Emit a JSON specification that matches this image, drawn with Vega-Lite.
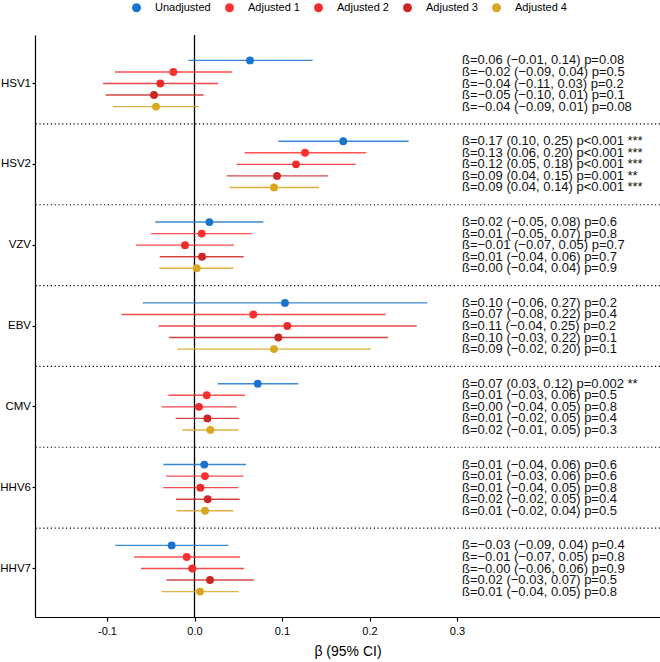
{
  "$schema": "https://vega.github.io/schema/vega-lite/v6.json",
  "width": 625,
  "height": 582,
  "autosize": "none",
  "padding": {"left": 35, "top": 35, "right": 0, "bottom": 45},
  "background": "white",
  "config": {
    "view": {"stroke": null},
    "font": "Liberation Sans",
    "axis": {"grid": false, "domainColor": "black", "domainWidth": 1.2, "tickColor": "black", "tickWidth": 1.2, "labelColor": "black", "titleColor": "black", "titleFontWeight": "normal"}
  },
  "data": {"values": [
    {"virus": "HSV1", "model": "Unadjusted", "beta": 0.0634, "lo": -0.0071, "hi": 0.135, "label": "ß=0.06 (−0.01, 0.14) p=0.08"},
    {"virus": "HSV1", "model": "Adjusted 1", "beta": -0.0242, "lo": -0.0909, "hi": 0.0429, "label": "ß=−0.02 (−0.09, 0.04) p=0.5"},
    {"virus": "HSV1", "model": "Adjusted 2", "beta": -0.0391, "lo": -0.1046, "hi": 0.0272, "label": "ß=−0.04 (−0.11, 0.03) p=0.2"},
    {"virus": "HSV1", "model": "Adjusted 3", "beta": -0.0463, "lo": -0.1015, "hi": 0.0105, "label": "ß=−0.05 (−0.10, 0.01) p=0.1"},
    {"virus": "HSV1", "model": "Adjusted 4", "beta": -0.044, "lo": -0.0931, "hi": 0.0051, "label": "ß=−0.04 (−0.09, 0.01) p=0.08"},
    {"virus": "HSV2", "model": "Unadjusted", "beta": 0.170, "lo": 0.0958, "hi": 0.2448, "label": "ß=0.17 (0.10, 0.25) p<0.001 ***"},
    {"virus": "HSV2", "model": "Adjusted 1", "beta": 0.1263, "lo": 0.0573, "hi": 0.196, "label": "ß=0.13 (0.06, 0.20) p<0.001 ***"},
    {"virus": "HSV2", "model": "Adjusted 2", "beta": 0.116, "lo": 0.0482, "hi": 0.184, "label": "ß=0.12 (0.05, 0.18) p<0.001 ***"},
    {"virus": "HSV2", "model": "Adjusted 3", "beta": 0.0943, "lo": 0.0368, "hi": 0.1526, "label": "ß=0.09 (0.04, 0.15) p=0.001 **"},
    {"virus": "HSV2", "model": "Adjusted 4", "beta": 0.0909, "lo": 0.0398, "hi": 0.1423, "label": "ß=0.09 (0.04, 0.14) p<0.001 ***"},
    {"virus": "VZV", "model": "Unadjusted", "beta": 0.017, "lo": -0.0448, "hi": 0.0787, "label": "ß=0.02 (−0.05, 0.08) p=0.6"},
    {"virus": "VZV", "model": "Adjusted 1", "beta": 0.0082, "lo": -0.0497, "hi": 0.0657, "label": "ß=0.01 (−0.05, 0.07) p=0.8"},
    {"virus": "VZV", "model": "Adjusted 2", "beta": -0.0109, "lo": -0.0669, "hi": 0.0451, "label": "ß=−0.01 (−0.07, 0.05) p=0.7"},
    {"virus": "VZV", "model": "Adjusted 3", "beta": 0.0086, "lo": -0.0398, "hi": 0.0562, "label": "ß=0.01 (−0.04, 0.06) p=0.7"},
    {"virus": "VZV", "model": "Adjusted 4", "beta": 0.0025, "lo": -0.0402, "hi": 0.0444, "label": "ß=0.00 (−0.04, 0.04) p=0.9"},
    {"virus": "EBV", "model": "Unadjusted", "beta": 0.1034, "lo": -0.0592, "hi": 0.266, "label": "ß=0.10 (−0.06, 0.27) p=0.2"},
    {"virus": "EBV", "model": "Adjusted 1", "beta": 0.0672, "lo": -0.0836, "hi": 0.2185, "label": "ß=0.07 (−0.08, 0.22) p=0.4"},
    {"virus": "EBV", "model": "Adjusted 2", "beta": 0.1061, "lo": -0.041, "hi": 0.254, "label": "ß=0.11 (−0.04, 0.25) p=0.2"},
    {"virus": "EBV", "model": "Adjusted 3", "beta": 0.0958, "lo": -0.0291, "hi": 0.2211, "label": "ß=0.10 (−0.03, 0.22) p=0.1"},
    {"virus": "EBV", "model": "Adjusted 4", "beta": 0.0909, "lo": -0.0196, "hi": 0.2017, "label": "ß=0.09 (−0.02, 0.20) p=0.1"},
    {"virus": "CMV", "model": "Unadjusted", "beta": 0.0722, "lo": 0.0265, "hi": 0.1187, "label": "ß=0.07 (0.03, 0.12) p=0.002 **"},
    {"virus": "CMV", "model": "Adjusted 1", "beta": 0.0139, "lo": -0.0299, "hi": 0.0577, "label": "ß=0.01 (−0.03, 0.06) p=0.5"},
    {"virus": "CMV", "model": "Adjusted 2", "beta": 0.0051, "lo": -0.0375, "hi": 0.0482, "label": "ß=0.00 (−0.04, 0.05) p=0.8"},
    {"virus": "CMV", "model": "Adjusted 3", "beta": 0.0147, "lo": -0.0215, "hi": 0.0509, "label": "ß=0.01 (−0.02, 0.05) p=0.4"},
    {"virus": "CMV", "model": "Adjusted 4", "beta": 0.0181, "lo": -0.0139, "hi": 0.0505, "label": "ß=0.02 (−0.01, 0.05) p=0.3"},
    {"virus": "HHV6", "model": "Unadjusted", "beta": 0.0112, "lo": -0.0357, "hi": 0.0589, "label": "ß=0.01 (−0.04, 0.06) p=0.6"},
    {"virus": "HHV6", "model": "Adjusted 1", "beta": 0.012, "lo": -0.0326, "hi": 0.0558, "label": "ß=0.01 (−0.03, 0.06) p=0.6"},
    {"virus": "HHV6", "model": "Adjusted 2", "beta": 0.0067, "lo": -0.0357, "hi": 0.05, "label": "ß=0.01 (−0.04, 0.05) p=0.8"},
    {"virus": "HHV6", "model": "Adjusted 3", "beta": 0.0151, "lo": -0.0211, "hi": 0.0516, "label": "ß=0.02 (−0.02, 0.05) p=0.4"},
    {"virus": "HHV6", "model": "Adjusted 4", "beta": 0.012, "lo": -0.0204, "hi": 0.0444, "label": "ß=0.01 (−0.02, 0.04) p=0.5"},
    {"virus": "HHV7", "model": "Unadjusted", "beta": -0.0261, "lo": -0.0905, "hi": 0.0387, "label": "ß=−0.03 (−0.09, 0.04) p=0.4"},
    {"virus": "HHV7", "model": "Adjusted 1", "beta": -0.0089, "lo": -0.0691, "hi": 0.052, "label": "ß=−0.01 (−0.07, 0.05) p=0.8"},
    {"virus": "HHV7", "model": "Adjusted 2", "beta": -0.0025, "lo": -0.0611, "hi": 0.0566, "label": "ß=−0.00 (−0.06, 0.06) p=0.9"},
    {"virus": "HHV7", "model": "Adjusted 3", "beta": 0.0177, "lo": -0.0322, "hi": 0.0677, "label": "ß=0.02 (−0.03, 0.07) p=0.5"},
    {"virus": "HHV7", "model": "Adjusted 4", "beta": 0.0063, "lo": -0.0375, "hi": 0.0505, "label": "ß=0.01 (−0.04, 0.05) p=0.8"}
  ]},
  "layer": [
    {
      "data": {"values": [{"virus": "HSV1"}, {"virus": "HSV2"}, {"virus": "VZV"}, {"virus": "EBV"}, {"virus": "CMV"}, {"virus": "HHV6"}]},
      "mark": {"type": "rule", "color": "black", "strokeWidth": 1.2, "strokeDash": [1.2, 2.6]},
      "encoding": {
        "y": {"field": "virus", "type": "nominal", "bandPosition": 1, "title": null, "scale": {"domain": ["HSV1", "HSV2", "VZV", "EBV", "CMV", "HHV6", "HHV7"], "paddingInner": 0, "paddingOuter": 0.1}}
      }
    },
    {
      "data": {"values": [{"ref": "zero"}]},
      "mark": {"type": "rule", "color": "black", "strokeWidth": 1.3},
      "encoding": {
        "x": {"datum": 0, "type": "quantitative", "title": "β (95% CI)"}
      }
    },
    {
      "mark": {"type": "rule", "strokeWidth": 1.4, "opacity": 0.85},
      "encoding": {
        "y": {"field": "virus", "type": "nominal", "title": null, "scale": {"domain": ["HSV1", "HSV2", "VZV", "EBV", "CMV", "HHV6", "HHV7"], "paddingInner": 0, "paddingOuter": 0.1},
          "axis": {"labelFontSize": 11.5, "tickSize": 3, "labelPadding": 1.5, "domain": true, "ticks": true}},
        "yOffset": {"field": "model", "type": "nominal", "scale": {"domain": ["Unadjusted", "Adjusted 1", "Adjusted 2", "Adjusted 3", "Adjusted 4"], "paddingInner": 0, "paddingOuter": 1.09}},
        "x": {"field": "lo", "type": "quantitative", "title": "β (95% CI)",
          "scale": {"domain": [-0.1823, 0.532], "nice": false, "zero": false},
          "axis": {"values": [-0.1, 0, 0.1, 0.2, 0.3], "labelExpr": "replace(format(datum.value, '.1f'), '−', '-')", "labelFontSize": 11, "tickSize": 4, "labelPadding": 4, "titleFontSize": 14, "titlePadding": 8}},
        "x2": {"field": "hi"},
        "color": {"field": "model", "type": "nominal",
          "legend": {"title": null, "orient": "none", "legendX": 96, "legendY": -33, "direction": "horizontal", "labelFontSize": 11, "labelColor": "black", "symbolType": "circle", "symbolSize": 80, "symbolStrokeWidth": 0, "symbolFillColor": null, "symbolOpacity": 1, "labelOffset": 13, "columnPadding": 13, "padding": 0},
          "scale": {"domain": ["Unadjusted", "Adjusted 1", "Adjusted 2", "Adjusted 3", "Adjusted 4"], "range": ["#1874CD", "#FF3030", "#EE2C2C", "#CD2626", "#DAA520"]}}
      }
    },
    {
      "mark": {"type": "circle", "size": 62, "opacity": 1},
      "encoding": {
        "y": {"field": "virus", "type": "nominal", "title": null, "scale": {"domain": ["HSV1", "HSV2", "VZV", "EBV", "CMV", "HHV6", "HHV7"], "paddingInner": 0, "paddingOuter": 0.1}},
        "yOffset": {"field": "model", "type": "nominal", "scale": {"domain": ["Unadjusted", "Adjusted 1", "Adjusted 2", "Adjusted 3", "Adjusted 4"], "paddingInner": 0, "paddingOuter": 1.09}},
        "x": {"field": "beta", "type": "quantitative", "title": "β (95% CI)"},
        "color": {"field": "model", "type": "nominal",
          "scale": {"domain": ["Unadjusted", "Adjusted 1", "Adjusted 2", "Adjusted 3", "Adjusted 4"], "range": ["#1874CD", "#FF3030", "#EE2C2C", "#CD2626", "#DAA520"]}}
      }
    },
    {
      "mark": {"type": "text", "align": "left", "baseline": "middle", "fontSize": 13, "color": "#111111"},
      "encoding": {
        "y": {"field": "virus", "type": "nominal", "title": null, "scale": {"domain": ["HSV1", "HSV2", "VZV", "EBV", "CMV", "HHV6", "HHV7"], "paddingInner": 0, "paddingOuter": 0.1}},
        "yOffset": {"field": "model", "type": "nominal", "scale": {"domain": ["Unadjusted", "Adjusted 1", "Adjusted 2", "Adjusted 3", "Adjusted 4"], "paddingInner": 0, "paddingOuter": 1.09}},
        "x": {"datum": 0.3057, "type": "quantitative", "title": "β (95% CI)"},
        "text": {"field": "label"}
      }
    }
  ]
}
